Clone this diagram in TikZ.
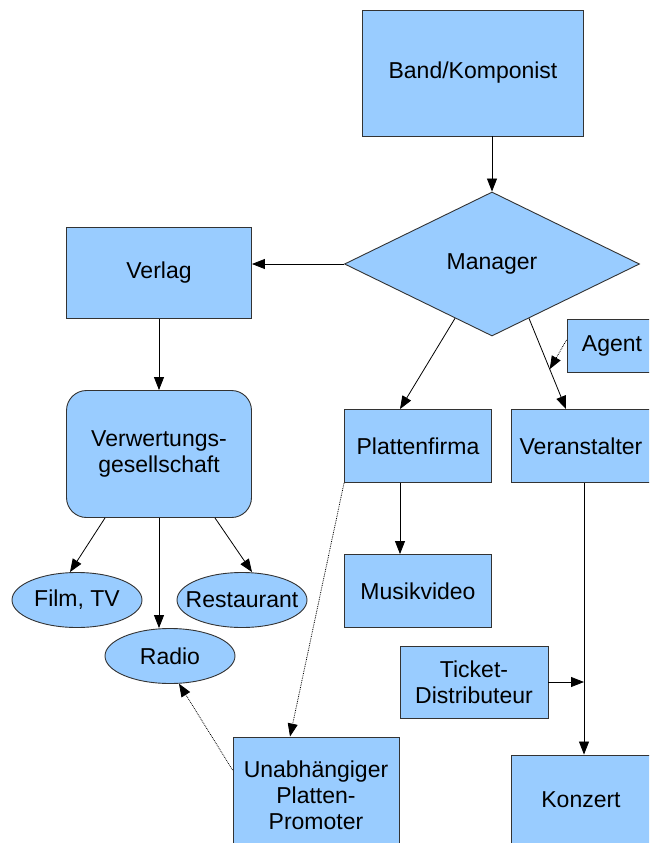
\documentclass[tikz,border=0pt]{standalone}
\usepackage{fontspec}
\setmainfont{Liberation Sans}
\usetikzlibrary{shapes.geometric,arrows.meta,calc}

\definecolor{boxblue}{HTML}{99CCFF}
\definecolor{rand}{HTML}{333333}

\tikzset{
  box/.style={rectangle, fill=boxblue, draw=rand, line width=0.9pt, inner sep=0pt, align=center},
  oval/.style={ellipse, fill=boxblue, draw=rand, line width=0.9pt, inner xsep=-11pt, inner ysep=0pt,
    minimum width=130pt, minimum height=55pt},
  pfeil/.style={line width=0.8pt, -{Triangle[length=13pt,width=10pt]}},
  punkte/.style={pfeil, densely dotted}
}

\begin{document}
\begin{tikzpicture}[x=1pt, y=-1pt, font=\fontsize{23}{26}\selectfont]
  \clip (0,0) rectangle (649,843);
  \fill[white] (0,0) rectangle (649,843);

  \node[box, minimum width=221pt, minimum height=126pt] (band) at (473,73) {Band/Komponist};
  \node[diamond, fill=boxblue, draw=rand, line width=0.9pt, inner sep=0pt, aspect=2.05,
        minimum width=295pt, minimum height=144pt] (manager) at (492,264) {Manager};
  \node[box, minimum width=185pt, minimum height=91pt] (verlag) at (159,273) {Verlag};
  \node[box, rounded corners=20pt, minimum width=185pt, minimum height=127pt] (verwertung) at (159,454) {Verwertungs-\\gesellschaft};
  \node[oval] (film) at (77,600) {Film, TV};
  \node[oval] (restaurant) at (242,600) {Restaurant};
  \node[oval] (radio) at (170,656) {Radio};
  \node[box, minimum width=147pt, minimum height=73pt] (plattenfirma) at (418,446) {Plattenfirma};
  \node[box, minimum width=140pt, minimum height=73pt] (veranstalter) at (581,446) {Veranstalter};
  \node[box, minimum width=90pt, minimum height=53pt] (agent) at (612,346) {Agent};
  \node[box, minimum width=147pt, minimum height=73pt] (musikvideo) at (418,591) {Musikvideo};
  \node[box, minimum width=148pt, minimum height=72pt] (ticket) at (474,682) {Ticket-\\Distributeur};
  \node[box, minimum width=140pt, minimum height=90pt] (konzert) at (581,800) {Konzert};
  \node[box, minimum width=166pt, minimum height=116pt] (promoter) at (316,795) {Unabhängiger\\Platten-\\Promoter};

  \draw[pfeil] (band.south -| manager.north) -- (manager.north);
  \draw[pfeil] (manager.west) -- (manager.west -| verlag.east);
  \draw[pfeil] (verlag) -- (verwertung);
  \draw[pfeil] ([xshift=-54pt]verwertung.south) -- ([xshift=-7pt]film.north);
  \draw[pfeil] (verwertung.south) -- (verwertung.south |- radio.north);
  \draw[pfeil] ([xshift=56pt]verwertung.south) -- ([xshift=10pt]restaurant.north);

  \coordinate (mp) at ($(manager.south)!0.25!(manager.west)$);
  \coordinate (mv) at ($(manager.south)!0.25!(manager.east)$);
  \draw[pfeil] (mp) -- ([xshift=-18pt]plattenfirma.north);
  \draw[pfeil] (mv) -- ([xshift=-15pt]veranstalter.north);
  \coordinate (av) at ($(mv)!0.56!([xshift=-15pt]veranstalter.north)$);
  \draw[punkte] ([yshift=6pt]agent.west) -- (av);

  \draw[pfeil] ([xshift=-18pt]plattenfirma.south) -- ([xshift=-18pt]musikvideo.north);
  \coordinate (kz) at ([xshift=3pt]konzert.north);
  \draw[pfeil] ([xshift=3pt]veranstalter.south) -- (kz);
  \draw[pfeil] (ticket.east) -- (ticket.east -| kz);

  \draw[punkte] (plattenfirma.south west) -- ([xshift=-26pt]promoter.north);
  \draw[punkte] ([yshift=25pt]promoter.west) -- (radio.-72);
\end{tikzpicture}
\end{document}
